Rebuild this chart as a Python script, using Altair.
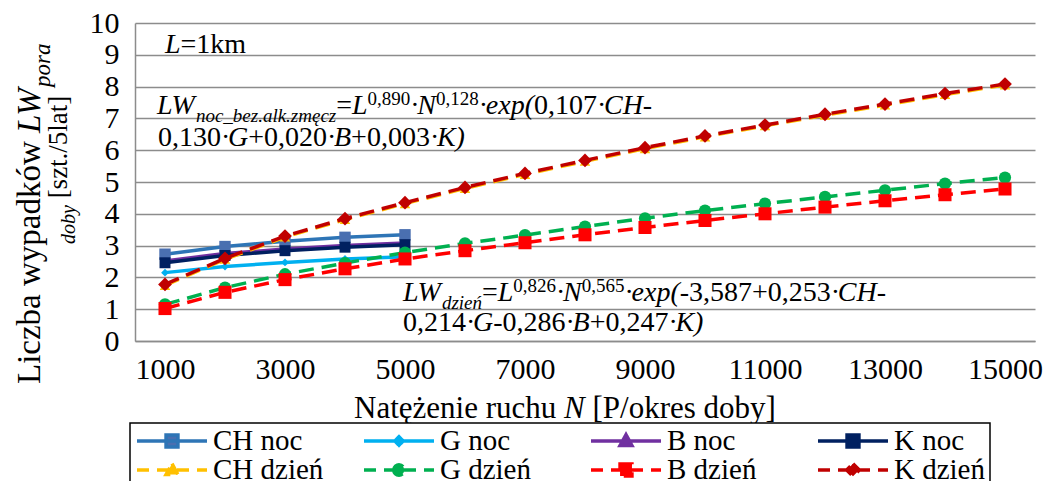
import altair as alt
import pandas as pd

# ---------------- data ----------------
N_day = [1000, 2000, 3000, 4000, 5000, 6000, 7000, 8000, 9000, 10000, 11000, 12000, 13000, 14000, 15000]
N_night = [1000, 2000, 3000, 4000, 5000]

ch_noc = [2.73, 2.97, 3.14, 3.26, 3.34]
g_noc = [2.15, 2.34, 2.47, 2.58, 2.65]
b_noc = [2.52, 2.75, 2.89, 3.00, 3.08]
k_noc = [2.46, 2.69, 2.84, 2.95, 3.03]

ch_dzien = [1.75, 2.57, 3.27, 3.82, 4.32, 4.80, 5.24, 5.65, 6.05, 6.42, 6.77, 7.10, 7.42, 7.75, 8.05]
g_dzien = [1.15, 1.68, 2.10, 2.45, 2.78, 3.07, 3.33, 3.60, 3.86, 4.10, 4.32, 4.53, 4.74, 4.95, 5.14]
b_dzien = [1.02, 1.53, 1.93, 2.27, 2.58, 2.84, 3.09, 3.34, 3.57, 3.79, 4.00, 4.21, 4.41, 4.60, 4.78]
k_dzien = [1.78, 2.60, 3.30, 3.85, 4.35, 4.83, 5.27, 5.68, 6.08, 6.45, 6.79, 7.13, 7.45, 7.78, 8.08]

names = ["CH noc", "G noc", "B noc", "K noc", "CH dzień", "G dzień", "B dzień", "K dzień"]
xs = [N_night] * 4 + [N_day] * 4
ys = [ch_noc, g_noc, b_noc, k_noc, ch_dzien, g_dzien, b_dzien, k_dzien]

y_ticks = [0, 1, 2, 3, 4, 5, 6, 7, 8, 9, 10]
x_ticks = [1000, 3000, 5000, 7000, 9000, 11000, 13000, 15000]

# ---------------- styles ----------------
line_colors = ["#2E75B6", "#00B0F0", "#7030A0", "#002060", "#FFC000", "#00B050", "#FF0000", "#C00000"]
marker_colors = ["#4A6FB0", "#00B0F0", "#7030A0", "#002060", "#FFC000", "#00B050", "#FF0000", "#C00000"]
shapes = ["square", "diamond", "triangle-up", "square", "triangle-up", "circle", "square", "diamond"]
msizes = [130, 60, 70, 120, 110, 150, 170, 190]
dashed = [False] * 4 + [True] * 4

SQ = "M-1,0H1M-0.17,-0.17H0.17V0.17H-0.17Z"
DM_S = "M-1,0H1M0,-0.12L0.12,0L0,0.12L-0.12,0Z"
TRI = "M-1,0H1M0,-0.18L0.17,0.13L-0.17,0.13Z"
CIR = "M-1,0H1M-0.15,0A0.15,0.15,0,1,0,0.15,0A0.15,0.15,0,1,0,-0.15,0Z"
DM = "M-1,0H1M0,-0.18L0.18,0L0,0.18L-0.18,0Z"
leg_paths = [SQ, DM_S, TRI, SQ, TRI, CIR, SQ, DM]

FONT = "Liberation Serif, Times New Roman, Times, serif"
GRID = "#8c8c8c"
OX, OY = 135, 23          # plot origin in page pixels
W, H = 900, 318

rows = []
for n, xv, yv in zip(names, xs, ys):
    for a, b in zip(xv, yv):
        rows.append({"series": n, "N": a, "v": b})
df = pd.DataFrame(rows)

xscale = alt.Scale(domain=[500, 15500], nice=False, zero=False)
yscale = alt.Scale(domain=[0, 10], nice=False)
xaxis = alt.Axis(values=x_ticks, grid=False, ticks=False, labelFont=FONT, labelFontSize=30,
                 labelColor="black", labelPadding=13, domainColor=GRID, domainWidth=1.5,
                 format="d", title=None, labelFlush=False)
yaxis = alt.Axis(values=y_ticks, grid=True, gridColor=GRID, gridWidth=1.5, ticks=False,
                 labelFont=FONT, labelFontSize=30, labelColor="black", labelPadding=16,
                 domainColor=GRID, domainWidth=1.5, title=None)

layers = []
for i, n in enumerate(names):
    base = alt.Chart(df).transform_filter(alt.datum.series == n)
    lkw = dict(color=line_colors[i], strokeWidth=3.5)
    if dashed[i]:
        lkw["strokeDash"] = [15, 8]
    line = base.mark_line(**lkw).encode(
        x=alt.X("N:Q", scale=xscale, axis=xaxis),
        y=alt.Y("v:Q", scale=yscale, axis=yaxis),
    )
    pts = base.mark_point(shape=shapes[i], size=msizes[i], filled=True, opacity=1,
                          color=marker_colors[i]).encode(
        x=alt.X("N:Q", scale=xscale, axis=xaxis),
        y=alt.Y("v:Q", scale=yscale, axis=yaxis),
    )
    layers += [line, pts]

# ---------------- legend (empty layer, domain-driven) ----------------
legend_layer = alt.Chart(df).transform_filter("false").mark_point(opacity=1, strokeWidth=3.5).encode(
    fill=alt.Fill("series:N", scale=alt.Scale(domain=names, range=marker_colors), title=None),
    stroke=alt.Stroke("series:N", scale=alt.Scale(domain=names, range=line_colors), title=None),
    shape=alt.Shape("series:N", scale=alt.Scale(domain=names, range=leg_paths), title=None),
    strokeDash=alt.StrokeDash("series:N", scale=alt.Scale(domain=names,
                              range=[[1, 0]] * 4 + [[12, 8]] * 4), title=None),
)

# ---------------- rich text annotations ----------------
REG = {' ': 250, ',': 250, '.': 250, '=': 564, '+': 564, '-': 333, '(': 333, ')': 333, '·': 250,
       '[': 333, ']': 333, '/': 278, 'k': 500, 'm': 778, 'L': 611, 'N': 722, 'P': 556, 'a': 444,
       'b': 500, 'c': 444, 'd': 500, 'e': 444, 'h': 500, 'i': 278, 'l': 278, 'n': 500, 'o': 500,
       'r': 333, 's': 389, 't': 278, 'u': 500, 'w': 722, 'y': 500, 'z': 444, 'ó': 500, 'ę': 444,
       'ż': 444, 'ń': 500, 'p': 500, 'x': 500, 'C': 667, 'H': 722}
ITA = {' ': 250, 'L': 556, 'W': 833, 'N': 667, 'C': 667, 'H': 722, 'G': 722, 'B': 611, 'K': 667,
       'e': 444, 'x': 444, 'p': 500, 'n': 500, 'o': 500, 'c': 444, '_': 500, 'b': 500, 'z': 389,
       '.': 250, 'a': 500, 'l': 278, 'k': 444, 'm': 722, 'ę': 444, 'd': 500, 'i': 278, 'ń': 500,
       'r': 389, 'y': 444, '(': 333, ')': 333, '-': 333}
for d in "0123456789":
    REG[d] = 500
    ITA[d] = 500


def lay(x0, y0, segs, S, s2, vertical=False):
    out = []
    cum = 0.0
    for txt, it, kind in segs:
        size = S if kind == "n" else s2
        off = 0 if kind == "n" else (0.3 * S if kind == "sub" else -0.32 * S)
        tab = ITA if it else REG
        lead = len(txt) - len(txt.lstrip(" "))
        pos = cum + lead * tab[' '] / 1000.0 * size
        if vertical:
            out.append({"t": txt.strip(), "x": x0 + off - OX, "y": y0 - pos - OY, "s": size, "it": it})
        else:
            out.append({"t": txt.strip(), "x": x0 + pos - OX, "y": y0 + off - OY, "s": size, "it": it})
        cum += sum(tab.get(c, 500) for c in txt) / 1000.0 * size
    return out


horiz = []
horiz += lay(165, 53, [("L", True, "n"), ("=1km", False, "n")], 28, 18)
horiz += lay(157, 114, [("LW", True, "n"), ("noc_bez.alk.zmęcz", True, "sub"), ("=", False, "n"),
                        ("L", True, "n"), ("0,890", False, "sup"), ("·", False, "n"), ("N", True, "n"),
                        ("0,128", False, "sup"), ("·", False, "n"), ("exp(", True, "n"),
                        ("0,107·", False, "n"), ("CH", True, "n"), ("-", False, "n")], 28, 19)
horiz += lay(158, 146, [("0,130·", False, "n"), ("G", True, "n"), ("+0,020·", False, "n"),
                        ("B", True, "n"), ("+0,003·", False, "n"), ("K)", True, "n")], 28, 19)
horiz += lay(403, 301, [("LW", True, "n"), ("dzień", True, "sub"), ("=", False, "n"),
                        ("L", True, "n"), ("0,826", False, "sup"), ("·", False, "n"), ("N", True, "n"),
                        ("0,565", False, "sup"), ("·", False, "n"), ("exp(", True, "n"),
                        ("-3,587+0,253·", False, "n"), ("CH", True, "n"), ("-", False, "n")], 28, 19)
horiz += lay(403, 331, [("0,214·", False, "n"), ("G", True, "n"), ("-0,286·", False, "n"),
                        ("B", True, "n"), ("+0,247·", False, "n"), ("K)", True, "n")], 28, 19)
horiz += lay(354, 418, [("Natężenie ruchu ", False, "n"), ("N", True, "n"),
                        (" [P/okres doby]", False, "n")], 31, 20)

vert = []
vert += lay(40, 384, [("Liczba wypadków ", False, "n"), ("LW", True, "n"), ("pora", True, "sub")], 33, 23, True)
vert += lay(67, 244, [("doby", True, "sub"), (" [szt./5lat]", False, "n")], 27, 20, True)

hdf = pd.DataFrame(horiz)
vdf = pd.DataFrame(vert)


def text_layer(data, italic, angle=None):
    kw = dict(align="left", baseline="alphabetic", font=FONT, color="black")
    if italic:
        kw["fontStyle"] = "italic"
    if angle is not None:
        kw["angle"] = angle
    return alt.Chart(data).mark_text(**kw).encode(
        x=alt.X("x:Q", scale=None, axis=None),
        y=alt.Y("y:Q", scale=None, axis=None),
        text="t:N",
        size=alt.Size("s:Q", scale=None, legend=None),
    )


texts = [
    text_layer(hdf[~hdf["it"]], False),
    text_layer(hdf[hdf["it"]], True),
    text_layer(vdf[~vdf["it"]], False, 270),
    text_layer(vdf[vdf["it"]], True, 270),
]

chart = alt.layer(*layers, legend_layer, *texts).properties(
    width=W, height=H,
    autosize=alt.AutoSizeParams(type="none"),
    padding={"left": OX, "top": OY, "right": 1044 - OX - W, "bottom": 481 - OY - H},
).resolve_scale(
    fill="independent", stroke="independent", shape="independent", strokeDash="independent"
).configure_view(strokeWidth=0).configure_legend(
    orient="none", legendX=-5, legendY=400, direction="horizontal", columns=4,
    strokeColor="black", strokeWidth=1.5, padding=5, fillColor="white",
    symbolSize=4900, symbolStrokeWidth=3.5, symbolOpacity=1,
    labelFont=FONT, labelFontSize=29, labelColor="black", labelOffset=4, labelLimit=300,
    columnPadding=38, rowPadding=0, clipHeight=26, gridAlign="all",
)

chart.save("out.html", embed_options={"renderer": "svg", "actions": False})
